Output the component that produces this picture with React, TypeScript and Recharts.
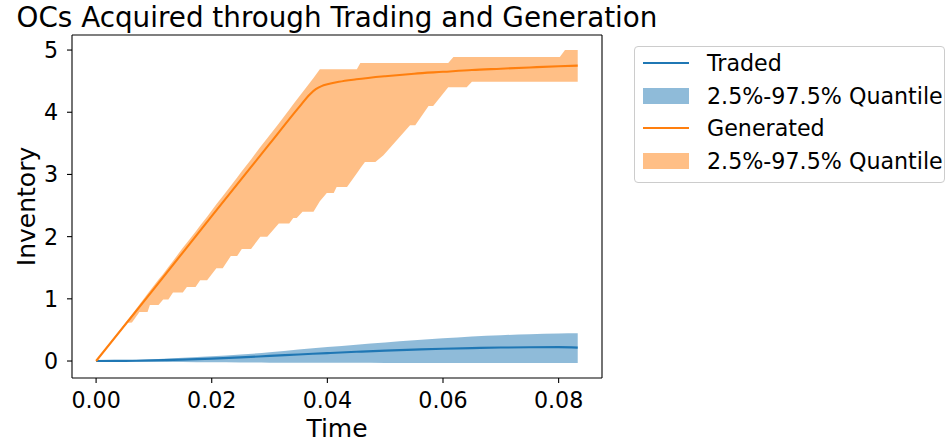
import React from 'react';
import { ComposedChart, Line, Area, XAxis, YAxis, ReferenceLine } from 'recharts';

const FONT = '"DejaVu Sans", sans-serif';
const BLUE = '#1f77b4';
const ORANGE = '#ff7f0e';

const title = 'OCs Acquired through Trading and Generation';
const xLabel = 'Time';
const yLabel = 'Inventory';
const xTicks = [0, 0.02, 0.04, 0.06, 0.08];
const yTicks = [0, 1, 2, 3, 4, 5];
const xDomain = [-0.0041667, 0.0875];
const yDomain = [-0.273, 5.242];

const legendItems = [
  { label: 'Traded', kind: 'line', color: BLUE },
  { label: '2.5%-97.5% Quantile', kind: 'patch', color: BLUE },
  { label: 'Generated', kind: 'line', color: ORANGE },
  { label: '2.5%-97.5% Quantile', kind: 'patch', color: ORANGE },
];

// Generated: mean line
const genTimes = [0, 0.01, 0.02, 0.03, 0.035, 0.037, 0.038, 0.039, 0.04, 0.042, 0.045, 0.05, 0.055, 0.06, 0.065, 0.07, 0.075, 0.08, 0.0833];
const genMean = [0, 1.16, 2.33, 3.49, 4.07, 4.29, 4.37, 4.42, 4.45, 4.49, 4.53, 4.58, 4.62, 4.65, 4.68, 4.7, 4.72, 4.74, 4.75];

// Generated: quantile band
const genBandTimes = [0, 0.0052, 0.0062, 0.0075, 0.0089, 0.0093, 0.0108, 0.0116, 0.0125, 0.0133, 0.015, 0.0157, 0.0172, 0.018, 0.0192, 0.0208, 0.0219, 0.0233, 0.0244, 0.0252, 0.0268, 0.0284, 0.0296, 0.0316, 0.0334, 0.0341, 0.0347, 0.0357, 0.0376, 0.0387, 0.0399, 0.0411, 0.0416, 0.0434, 0.0451, 0.0457, 0.0465, 0.0483, 0.0497, 0.0543, 0.0552, 0.0575, 0.0583, 0.0609, 0.0618, 0.0641, 0.065, 0.0802, 0.0811, 0.0833];
const genLower = [0, 0.61, 0.62, 0.79, 0.79, 0.9, 0.9, 0.99, 0.99, 1.1, 1.1, 1.19, 1.19, 1.3, 1.3, 1.49, 1.49, 1.69, 1.69, 1.8, 1.8, 2.0, 2.0, 2.21, 2.21, 2.3, 2.3, 2.4, 2.4, 2.57, 2.7, 2.7, 2.8, 2.8, 3.02, 3.1, 3.2, 3.2, 3.31, 3.79, 3.79, 4.1, 4.1, 4.4, 4.4, 4.4, 4.49, 4.49, 4.49, 4.49];
const genUpper = [0, 0.63, 0.75, 0.91, 1.08, 1.13, 1.31, 1.4, 1.51, 1.61, 1.82, 1.9, 2.08, 2.18, 2.32, 2.52, 2.65, 2.82, 2.95, 3.05, 3.24, 3.44, 3.58, 3.82, 4.04, 4.13, 4.2, 4.32, 4.55, 4.69, 4.69, 4.69, 4.69, 4.69, 4.69, 4.79, 4.79, 4.79, 4.79, 4.79, 4.79, 4.79, 4.79, 4.79, 4.89, 4.89, 4.89, 4.89, 5.0, 5.0];

// Traded
const tradeTimes = [0, 0.005, 0.01, 0.015, 0.02, 0.025, 0.03, 0.035, 0.04, 0.045, 0.05, 0.055, 0.06, 0.065, 0.07, 0.075, 0.08, 0.0833];
const tradeMean = [0, 0.003, 0.01, 0.022, 0.038, 0.058, 0.082, 0.105, 0.127, 0.148, 0.167, 0.183, 0.197, 0.208, 0.217, 0.222, 0.223, 0.215];
const tradeUpper = [0, 0.012, 0.03, 0.052, 0.076, 0.103, 0.14, 0.185, 0.225, 0.262, 0.298, 0.332, 0.365, 0.395, 0.415, 0.432, 0.443, 0.445];
const tradeLower = [0, -0.006, -0.012, -0.017, -0.021, -0.024, -0.026, -0.027, -0.028, -0.029, -0.03, -0.03, -0.03, -0.03, -0.03, -0.03, -0.03, -0.03];

const genLineData = genTimes.map((t, i) => ({ t, v: genMean[i] }));
const genBandData = genBandTimes.map((t, i) => ({ t, r: [genLower[i], genUpper[i]] }));
const tradeLineData = tradeTimes.map((t, i) => ({ t, v: tradeMean[i] }));
const tradeBandData = tradeTimes.map((t, i) => ({ t, r: [tradeLower[i], tradeUpper[i]] }));

const tickStyle = { fill: '#000', fontSize: 22.2, fontFamily: FONT };

const Legend = () => (
  <div
    style={{
      position: 'absolute',
      left: 634,
      top: 46,
      width: 311,
      height: 137,
      boxSizing: 'border-box',
      border: '1px solid #cccccc',
      borderRadius: 4,
      background: 'rgba(255,255,255,0.8)',
      fontFamily: FONT,
      fontSize: 22.2,
      color: '#000',
    }}
  >
    {legendItems.map((it, i) => (
      <div
        key={i}
        style={{ position: 'absolute', left: 8, top: 17.3 + i * 32.4 - 16 - 1, height: 32, width: 300, display: 'flex', alignItems: 'center' }}
      >
        <svg width={46} height={32} style={{ display: 'block' }}>
          {it.kind === 'line' ? (
            <line x1={0} x2={46} y1={16} y2={16} stroke={it.color} strokeWidth={2} />
          ) : (
            <rect x={0} y={8} width={46} height={16} fill={it.color} fillOpacity={0.5} />
          )}
        </svg>
        <span style={{ marginLeft: 18, lineHeight: '32px', whiteSpace: 'nowrap' }}>{it.label}</span>
      </div>
    ))}
  </div>
);

export default function App() {
  return (
    <div style={{ position: 'absolute', left: 0, top: 0, width: 946, height: 445, background: '#fff' }}>
      <ComposedChart width={946} height={445} margin={{ top: 35, right: 344, bottom: 7, left: 12 }}>
        <XAxis
          dataKey="t"
          type="number"
          domain={xDomain}
          ticks={xTicks}
          allowDataOverflow
          tickFormatter={(v: number) => v.toFixed(2)}
          height={60}
          tickSize={5}
          tickMargin={9}
          tick={tickStyle}
          axisLine={{ stroke: '#000', strokeWidth: 1.1 }}
          tickLine={{ stroke: '#000', strokeWidth: 1.1 }}
          label={{
            content: () => (
              <text x={337} y={436.5} textAnchor="middle" fontSize={25} fontFamily={FONT} fill="#000">
                {xLabel}
              </text>
            ),
          }}
        />
        <YAxis
          type="number"
          domain={yDomain}
          ticks={yTicks}
          allowDataOverflow
          width={60}
          tickSize={5}
          tickMargin={9}
          tick={tickStyle}
          axisLine={{ stroke: '#000', strokeWidth: 1.1 }}
          tickLine={{ stroke: '#000', strokeWidth: 1.1 }}
          label={{
            content: () => (
              <text x={0} y={0} transform="translate(35,206.5) rotate(-90)" textAnchor="middle" fontSize={25} fontFamily={FONT} fill="#000">
                {yLabel}
              </text>
            ),
          }}
        />
        <Area
          data={tradeBandData}
          dataKey="r"
          type="monotone"
          stroke="none"
          fill={BLUE}
          fillOpacity={0.5}
          isAnimationActive={false}
          dot={false}
          activeDot={false}
        />
        <Line
          data={tradeLineData}
          dataKey="v"
          type="monotone"
          stroke={BLUE}
          strokeWidth={2.1}
          dot={false}
          activeDot={false}
          isAnimationActive={false}
        />
        <Area
          data={genBandData}
          dataKey="r"
          type="linear"
          stroke="none"
          fill={ORANGE}
          fillOpacity={0.5}
          isAnimationActive={false}
          dot={false}
          activeDot={false}
        />
        <Line
          data={genLineData}
          dataKey="v"
          type="monotone"
          stroke={ORANGE}
          strokeWidth={2.1}
          dot={false}
          activeDot={false}
          isAnimationActive={false}
        />
        <ReferenceLine
          y={yDomain[1]}
          stroke="#000"
          strokeWidth={1.1}
          ifOverflow="visible"
          label={{
            content: () => (
              <text x={337} y={26.7} textAnchor="middle" fontSize={27.8} fontFamily={FONT} fill="#000">
                {title}
              </text>
            ),
          }}
        />
        <ReferenceLine x={xDomain[1]} stroke="#000" strokeWidth={1.1} ifOverflow="visible" />
      </ComposedChart>
      <Legend />
    </div>
  );
}
